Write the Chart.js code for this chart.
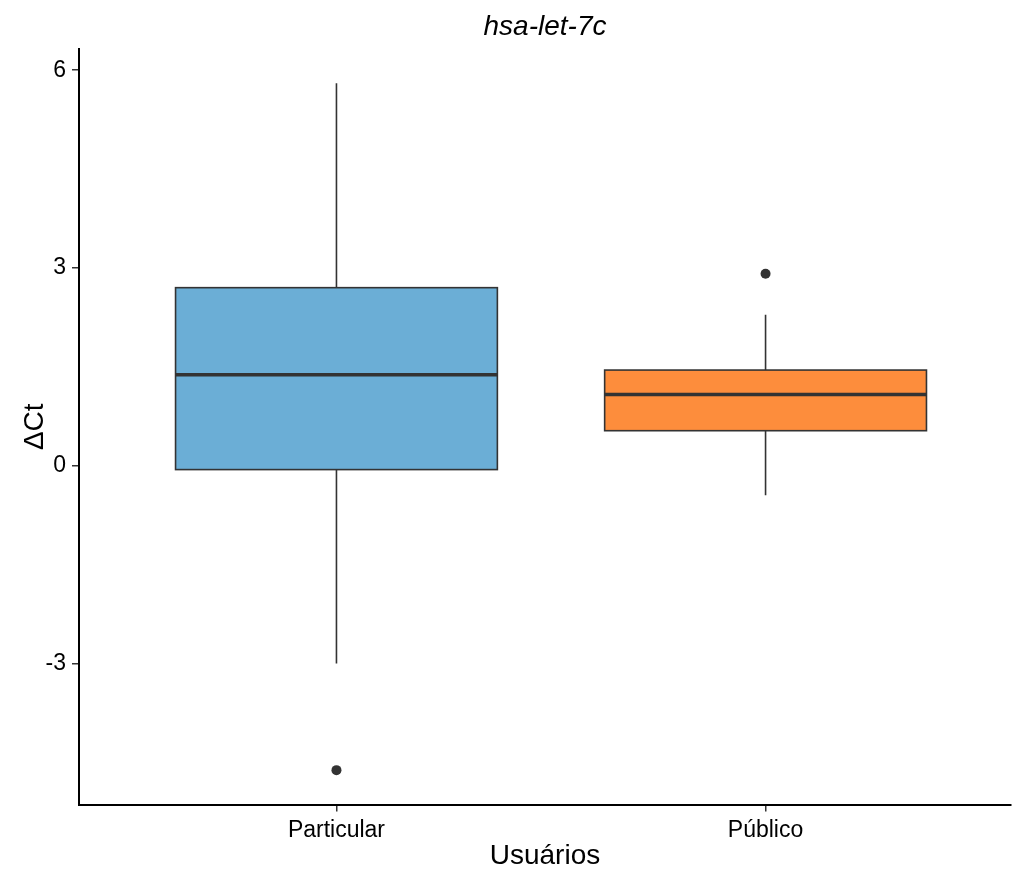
<!DOCTYPE html>
<html>
<head>
<meta charset="utf-8">
<script src="https://cdn.jsdelivr.net/npm/chart.js@4"></script>
<style>
  body { margin: 0; background: #fff; overflow: hidden; }
  canvas { display: block; }
</style>
</head>
<body>
<canvas id="box" width="1016" height="870"></canvas>
<script>
// box plot values
const categories = ['Particular', 'Público'];
const whiskerLow = [-3.00, -0.45];
const q1 = [-0.06, 0.53];
const median = [1.38, 1.08];
const q3 = [2.70, 1.45];
const whiskerHigh = [5.80, 2.29];
const outliers = [[-4.62], [2.91]];
const yTicks = [-3, 0, 3, 6];
const fills = ['#6BAED6', '#FD8D3C'];

const FONT = '"Liberation Sans", Arial, Helvetica, sans-serif';

// boxes, whiskers and medians drawn through the chart scales
const boxPlugin = {
    id: 'boxes',
    beforeDatasetsDraw(chart) {
        const ctx = chart.ctx;
        const xs = chart.scales.x;
        const ys = chart.scales.y;
        ctx.save();
        categories.forEach(function (name, i) {
            const pos = i + 1;
            const cx = xs.getPixelForValue(pos);
            const left = xs.getPixelForValue(pos - 0.375);
            const right = xs.getPixelForValue(pos + 0.375);
            const top = ys.getPixelForValue(q3[i]);
            const bottom = ys.getPixelForValue(q1[i]);

            ctx.strokeStyle = '#333333';
            ctx.lineWidth = 1.6;
            ctx.beginPath();
            ctx.moveTo(cx, ys.getPixelForValue(whiskerHigh[i]));
            ctx.lineTo(cx, top);
            ctx.moveTo(cx, bottom);
            ctx.lineTo(cx, ys.getPixelForValue(whiskerLow[i]));
            ctx.stroke();

            ctx.fillStyle = fills[i];
            ctx.fillRect(left, top, right - left, bottom - top);
            ctx.strokeRect(left, top, right - left, bottom - top);

            ctx.lineWidth = 3.5;
            const my = ys.getPixelForValue(median[i]);
            ctx.beginPath();
            ctx.moveTo(left, my);
            ctx.lineTo(right, my);
            ctx.stroke();
        });
        ctx.restore();
    }
};

const outlierPoints = [];
outliers.forEach(function (list, i) {
    list.forEach(function (v) {
        outlierPoints.push({ x: i + 1, y: v });
    });
});

new Chart(document.getElementById('box'), {
    type: 'scatter',
    data: {
        datasets: [{
            data: outlierPoints,
            pointRadius: 5,
            pointBackgroundColor: '#333333',
            pointBorderWidth: 0
        }]
    },
    plugins: [boxPlugin],
    options: {
        responsive: false,
        animation: false,
        layout: { padding: { left: 0, right: 0, top: 0, bottom: 0 } },
        plugins: {
            legend: { display: false },
            tooltip: { enabled: false },
            title: {
                display: true,
                fullSize: false,
                text: 'hsa-let-7c',
                color: '#000',
                font: { family: FONT, size: 28, style: 'italic', weight: 'normal' },
                padding: { top: 10, bottom: 5.4 }
            }
        },
        scales: {
            x: {
                type: 'linear',
                min: 0.4,
                max: 2.572,
                afterBuildTicks: function (scale) {
                    scale.ticks = categories.map(function (c, i) { return { value: i + 1 }; });
                },
                afterFit: function (scale) { scale.height = 65.5; },
                ticks: {
                    color: '#000',
                    font: { family: FONT, size: 23 },
                    padding: 5,
                    callback: function (v) { return categories[v - 1]; }
                },
                grid: { drawOnChartArea: false, drawTicks: true, tickLength: 7, color: '#333', lineWidth: 1.5 },
                border: { display: true, color: '#000', width: 2 },
                title: {
                    display: true,
                    text: 'Usuários',
                    color: '#000',
                    font: { family: FONT, size: 28, lineHeight: 1 },
                    padding: { top: 0, bottom: 0 }
                }
            },
            y: {
                min: -5.141,
                max: 6.321,
                afterBuildTicks: function (scale) {
                    scale.ticks = yTicks.map(function (v) { return { value: v }; });
                },
                afterFit: function (scale) { scale.width = 79; },
                ticks: {
                    color: '#000',
                    font: { family: FONT, size: 23 },
                    padding: 6
                },
                grid: { drawOnChartArea: false, drawTicks: true, tickLength: 7, color: '#333', lineWidth: 1.5 },
                border: { display: true, color: '#000', width: 2 },
                title: {
                    display: true,
                    text: 'ΔCt',
                    color: '#000',
                    font: { family: FONT, size: 28 },
                    padding: { top: 18, bottom: 0 }
                }
            }
        }
    }
});
</script>
</body>
</html>
